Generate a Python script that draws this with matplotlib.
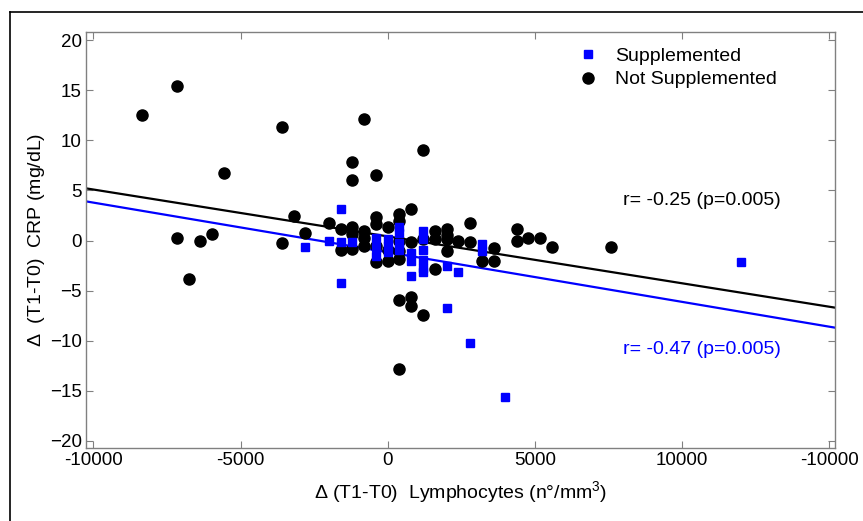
import matplotlib
matplotlib.use("Agg")
import matplotlib.pyplot as plt
import numpy as np
from matplotlib.lines import Line2D

plt.rcParams['font.family'] = ['Liberation Sans', 'DejaVu Sans']
plt.rcParams['mathtext.default'] = 'regular'

# Supplemented patients (blue squares)
sup_x = [-2800, -2000, -1600, -1600, -1600, -1200, -400, -400, -400, 0, 0, 0,
         400, 400, 400, 400, 800, 800, 800, 1200, 1200, 1200, 1200, 1200, 1200,
         2000, 2000, 2400, 2800, 3200, 3200, 4000, 12000]
sup_y = [-0.6, 0.0, 3.15, -0.1, -4.2, -0.1, 0.2, -0.6, -1.5, 0.1, -0.5, -1.1,
         1.3, 0.7, -0.2, -0.9, -1.2, -2.0, -3.5, 0.9, 0.1, -0.9, -1.9, -2.7, -3.1,
         -2.55, -6.7, -3.15, -10.25, -0.3, -1.0, -15.65, -2.1]

# Not supplemented patients (black circles)
ns_x = [-8350, -7150, -3580, -800, 1200, -5570, -1200, -1200, -400, -3180, 800,
        -7150, -6360, -5970, -6750, -3580, -2800, -2000, 2800,
        400, 800, 800, 1200, 400, 1600,
        4400, 4400, 4780, 5180, 5580, 7580, 3600, 3600, 3200, 2400, 2800, 2000,
        -1600, -1600, -1200, -1200, -1200, -800, -800, -800, -400, -400, -400, -400,
        0, 0, 0, 400, 400, 400, 400, 400, 800, 1200, 1600, 1600, 2000, 2000, 2000]
ns_y = [12.5, 15.4, 11.3, 12.1, 9.05, 6.7, 7.8, 6.0, 6.5, 2.4, 3.1,
        0.2, 0.0, 0.6, -3.8, -0.2, 0.7, 1.7, 1.75,
        -5.9, -5.6, -6.5, -7.4, -12.8, -2.8,
        1.15, 0.0, 0.2, 0.2, -0.65, -0.65, -0.7, -2.05, -2.05, 0.0, -0.1, -1.05,
        1.1, -0.9, 1.3, 0.65, -0.85, 0.95, 0.2, -0.5, 2.35, 1.6, -0.55, -2.15,
        1.35, -0.9, -2.05, 2.6, 1.9, 0.0, -1.05, -1.8, -0.1, 0.1, 0.95, 0.1, 1.1, 0.5, 0.1]

# regression lines (slope, intercept)
fit_ns = (-4.676e-4, 0.41)
fit_sup = (-4.95e-4, -1.17)

xticks = [-10000, -5000, 0, 5000, 10000, 15000]
xtick_labels = ['-10000', '-5000', '0', '5000', '10000', '-10000']
yticks = [-20, -15, -10, -5, 0, 5, 10, 15, 20]

fig = plt.figure(figsize=(8.63, 5.21), dpi=100)
ax = fig.add_axes([86 / 863, 1 - 448 / 521, 749 / 863, 416 / 521])

xlim = (-10250, 15200)
xx = np.array(xlim)
ax.plot(xx, fit_ns[0] * xx + fit_ns[1], color='black', lw=1.6, zorder=2)
ax.plot(xx, fit_sup[0] * xx + fit_sup[1], color='#0000ff', lw=1.6, zorder=2)

ax.plot(ns_x, ns_y, 'o', color='black', ms=8, ls='none', zorder=3,
        label='Not Supplemented')
ax.plot(sup_x, sup_y, 's', color='#0000ff', ms=5.8, ls='none', zorder=4,
        label='Supplemented')

ax.set_xlim(*xlim)
ax.set_ylim(-20.7, 20.8)
ax.set_xticks(xticks)
ax.set_xticklabels(xtick_labels)
ax.set_yticks(yticks)
ax.tick_params(direction='in', length=5, width=0.8, color='#808080',
               labelsize=13.5, top=True, right=True, pad=3)
for s in ax.spines.values():
    s.set_color('#808080')
    s.set_linewidth(1.0)

ax.text(8000, 4.0, 'r= -0.25 (p=0.005)', fontsize=14, color='black',
        va='center', ha='left')
ax.text(8000, -10.85, 'r= -0.47 (p=0.005)', fontsize=14, color='#0000ff',
        va='center', ha='left')

handles, labels = ax.get_legend_handles_labels()
ax.legend(handles[::-1], labels[::-1], loc='upper left',
          bbox_to_anchor=(0.655, 0.963), frameon=False, fontsize=14,
          borderaxespad=0, borderpad=0, handletextpad=0.8, handlelength=1.2,
          labelspacing=0.3)

ax.set_xlabel(r'$\Delta$ (T1-T0)  Lymphocytes (n°/mm$^3$)', fontsize=14,
              labelpad=7)
ax.set_ylabel(r'$\Delta$  (T1-T0)  CRP (mg/dL)', fontsize=14, labelpad=2)

# outer frame (left and top edges visible in the cropped figure)
fig.add_artist(Line2D([10 / 863, 10 / 863], [0, 1 - 12 / 521],
                      transform=fig.transFigure, color='black', lw=1.2))
fig.add_artist(Line2D([10 / 863, 1], [1 - 12 / 521, 1 - 12 / 521],
                      transform=fig.transFigure, color='black', lw=1.2))

fig.savefig('out.png', dpi=100)
